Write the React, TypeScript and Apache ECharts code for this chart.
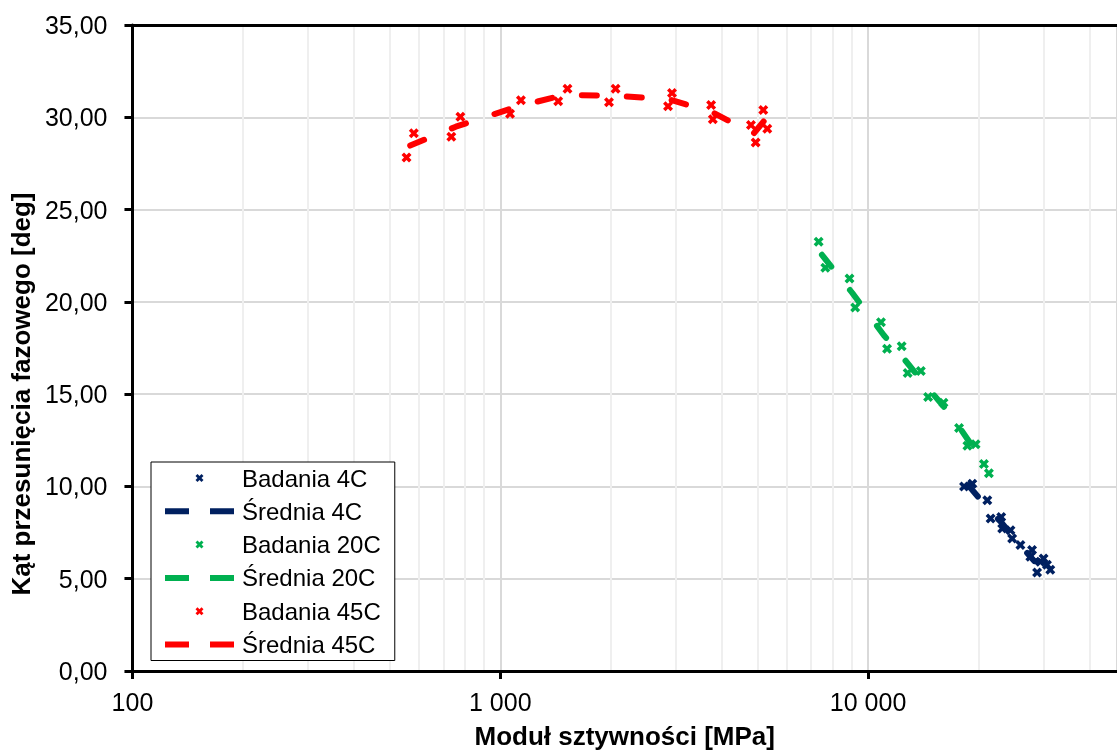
import React, { useEffect, useRef } from 'react';
import * as echarts from 'echarts';

const X_MIN = 100;
const X_MAX = 47500;
const xTickValues = [100, 1000, 10000];
const minorGridX = [200, 300, 400, 500, 600, 700, 800, 900, 2000, 3000, 4000, 5000, 6000, 7000, 8000, 9000, 20000, 30000, 40000];

const colors4 = '#002060';
const colors20 = '#00B050';
const colors45 = '#FF0000';

const badania4C: [number, number][] = [
  [18230, 10.0], [19200, 10.14], [21090, 9.25], [21530, 8.26], [23010, 8.35], [23150, 7.72],
  [24380, 7.63], [24640, 7.18], [25950, 6.82], [27610, 6.19], [27910, 6.55], [28800, 5.33],
  [29390, 5.92], [30000, 6.1], [30640, 5.75], [31280, 5.48],
];
const srednia4C: [number, number][] = [
  [18700, 10.07], [21300, 8.75], [23080, 8.03], [24510, 7.4], [26780, 6.5], [28350, 5.94], [29700, 6.0], [30960, 5.6],
];

const badania20C: [number, number][] = [
  [7338, 23.25], [7650, 21.85], [8901, 21.27], [9222, 19.69], [10840, 18.9], [11260, 17.46],
  [12340, 17.59], [12810, 16.15], [13910, 16.25], [14560, 14.85], [16030, 14.54], [17670, 13.16],
  [18620, 12.21], [19600, 12.29], [20650, 11.22], [21300, 10.72],
];
const srednia20C: [number, number][] = [
  [7490, 22.55], [9060, 20.48], [11050, 18.18], [12570, 16.87], [14230, 15.55], [16830, 13.85], [19100, 12.25], [20970, 10.97],
];

const badania45C: [number, number][] = [
  [556, 27.82], [582, 29.13], [736, 28.95], [779, 30.03], [1063, 30.19], [1138, 30.92],
  [1437, 30.87], [1523, 31.54], [1975, 30.82], [2058, 31.54], [2858, 30.6], [2930, 31.32],
  [3743, 30.66], [3783, 29.89], [4803, 29.58], [4946, 28.63], [5188, 30.39], [5319, 29.38],
];
const srednia45C: [number, number][] = [
  [569, 28.47], [757, 29.49], [1100, 30.55], [1480, 31.2], [2016, 31.18], [2894, 30.96], [3763, 30.28], [4874, 29.1], [5253, 29.88],
];

const FONT = '"Liberation Sans", Arial, sans-serif';
const X_ICON = 'path://M0,3 L3,0 L6,3 L9,0 L12,3 L9,6 L12,9 L9,12 L6,9 L3,12 L0,9 L3,6 Z';
const DASH_ICON = 'path://M0,0 L24,0 L24,6 L0,6 Z M45,0 L69,0 L69,6 L45,6 Z';

function fmtThousands(v: number): string {
  return String(Math.round(v)).replace(/\B(?=(\d{3})+(?!\d))/g, ' ');
}

export default function App() {
  const ref = useRef<HTMLDivElement>(null);
  useEffect(() => {
    if (!ref.current) return;
    const chart = echarts.init(ref.current, undefined, { renderer: 'svg' });
    const scatter = (name: string, data: [number, number][], color: string) => ({
      name,
      type: 'scatter',
      data,
      symbol: X_ICON,
      symbolSize: 10,
      itemStyle: { color, opacity: 1 },
      z: 3,
    });
    const mean = (name: string, data: [number, number][], color: string) => ({
      name,
      type: 'line',
      data,
      showSymbol: false,
      symbol: 'none',
      itemStyle: { color, opacity: 1 },
      lineStyle: { color, width: 6, type: [15, 30], cap: 'round', join: 'round' },
      z: 4,
    });
    chart.setOption({
      animation: false,
      textStyle: { fontFamily: FONT },
      grid: { left: 128, right: 0, top: 25, bottom: 79, containLabel: false },
      legend: {
        orient: 'vertical',
        left: 151,
        top: 462,
        z: 10,
        padding: [4, 14, 4, 14],
        itemWidth: 69,
        itemHeight: 8,
        itemGap: 9.3,
        borderColor: '#000',
        borderWidth: 1,
        backgroundColor: '#fff',
        itemStyle: { borderWidth: 0, opacity: 1 },
        textStyle: { fontSize: 24, color: '#000', fontFamily: FONT, lineHeight: 24, padding: [0, 0, 0, 3] },
        data: [
          { name: 'Badania 4C', icon: X_ICON },
          { name: 'Średnia 4C', icon: DASH_ICON },
          { name: 'Badania 20C', icon: X_ICON },
          { name: 'Średnia 20C', icon: DASH_ICON },
          { name: 'Badania 45C', icon: X_ICON },
          { name: 'Średnia 45C', icon: DASH_ICON },
        ],
      },
      xAxis: [
        {
          type: 'log',
          logBase: 10,
          min: X_MIN,
          max: X_MAX,
          name: 'Moduł sztywności [MPa]',
          nameLocation: 'middle',
          nameGap: 52,
          nameTextStyle: { fontSize: 26, fontWeight: 'bold', color: '#000', fontFamily: FONT },
          axisLine: { show: true, lineStyle: { color: '#000', width: 3 } },
          axisTick: { show: true, length: 8, lineStyle: { color: '#000', width: 3 } },
          axisLabel: {
            fontSize: 25,
            color: '#000',
            margin: 18,
            fontFamily: FONT,
            showMaxLabel: false,
            formatter: (v: number) => (xTickValues.some((t) => Math.abs(t - v) / t < 1e-6) ? fmtThousands(v) : ''),
          },
          splitLine: { show: true, lineStyle: { color: '#d9d9d9', width: 2 } },
        },
        {
          type: 'log',
          logBase: 10,
          min: X_MIN,
          max: X_MAX,
          position: 'top',
          axisLine: { show: true, lineStyle: { color: '#000', width: 3 } },
          axisTick: { show: false },
          axisLabel: { show: false },
          splitLine: { show: false },
        },
      ],
      yAxis: {
        type: 'value',
        min: 0,
        max: 35,
        interval: 5,
        name: 'Kąt przesunięcia fazowego [deg]',
        nameLocation: 'middle',
        nameGap: 94,
        nameTextStyle: { fontSize: 26, fontWeight: 'bold', color: '#000', fontFamily: FONT, padding: [0, 92, 0, 0] },
        axisLine: { show: true, lineStyle: { color: '#000', width: 3 } },
        axisTick: { show: true, length: 8, lineStyle: { color: '#000', width: 3 } },
        axisLabel: {
          fontSize: 25,
          color: '#000',
          margin: 25,
          fontFamily: FONT,
          formatter: (v: number) => v.toFixed(2).replace('.', ','),
        },
        splitLine: { show: true, lineStyle: { color: '#d9d9d9', width: 2 } },
      },
      series: [
        {
          name: 'minor',
          type: 'line',
          data: [],
          silent: true,
          z: 0,
          markLine: {
            z: 0,
            silent: true,
            symbol: 'none',
            label: { show: false },
            lineStyle: { color: '#efefef', width: 2, type: 'solid' },
            data: minorGridX.map((v) => ({ xAxis: v })),
          },
        },
        scatter('Badania 4C', badania4C, colors4),
        mean('Średnia 4C', srednia4C, colors4),
        scatter('Badania 20C', badania20C, colors20),
        mean('Średnia 20C', srednia20C, colors20),
        scatter('Badania 45C', badania45C, colors45),
        mean('Średnia 45C', srednia45C, colors45),
      ],
    });
    return () => chart.dispose();
  }, []);
  return <div ref={ref} style={{ position: 'fixed', left: 0, top: 0, width: 1117, height: 754 }} />;
}
